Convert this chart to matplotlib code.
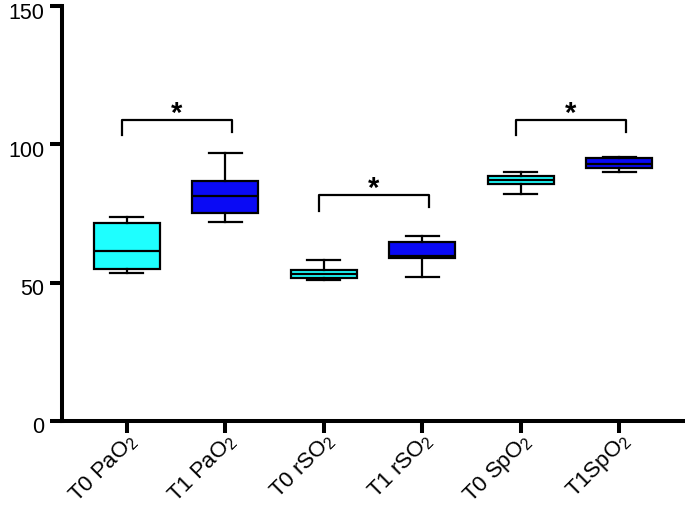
import matplotlib
matplotlib.use("Agg")
import matplotlib.pyplot as plt
import matplotlib.transforms as mtransforms

plt.rcParams['font.family'] = ['Liberation Sans', 'DejaVu Sans']
plt.rcParams['mathtext.fontset'] = 'custom'
plt.rcParams['mathtext.rm'] = 'Liberation Sans'

## Data

labels = ["T0 PaO$\\mathregular{_2}$", "T1 PaO$\\mathregular{_2}$", "T0 rSO$\\mathregular{_2}$",
          "T1 rSO$\\mathregular{_2}$", "T0 SpO$\\mathregular{_2}$", "T1SpO$\\mathregular{_2}$"]
whis_low = [53.5, 71.9, 51.0, 52.1, 82.0, 90.0]
q1 = [55.0, 75.3, 51.6, 59.0, 85.6, 91.6]
median = [61.5, 81.3, 53.1, 59.7, 87.1, 92.9]
q3 = [71.5, 86.9, 54.6, 64.6, 88.6, 95.0]
whis_high = [73.9, 97.0, 58.1, 66.9, 90.0, 95.4]
colors = ["#1EFFFF", "#0A0AF5", "#1EFFFF", "#0A0AF5", "#1EFFFF", "#0A0AF5"]

# significance brackets: first box index, top height, leg ends
pairs = [0, 2, 4]
bracket_top = [108.8, 81.6, 108.8]
leg_left = [103.4, 76.0, 103.4]
leg_right = [104.5, 77.2, 104.5]

# Chart

fig = plt.figure(figsize=(6.85, 5.09), dpi=100)
ax = fig.add_axes([0.090, 0.173, 0.91, 0.815])

stats = []
for i in range(len(labels)):
    stats.append({"whislo": whis_low[i], "q1": q1[i], "med": median[i],
                  "q3": q3[i], "whishi": whis_high[i], "fliers": []})

bp = ax.bxp(stats, positions=range(len(labels)), widths=0.67, patch_artist=True,
            showfliers=False,
            boxprops=dict(linewidth=1.6, edgecolor="black"),
            medianprops=dict(color="black", linewidth=1.6),
            whiskerprops=dict(color="black", linewidth=1.6),
            capprops=dict(color="black", linewidth=1.6))
for patch, c in zip(bp["boxes"], colors):
    patch.set_facecolor(c)

for k, i in enumerate(pairs):
    x0 = i - 0.05
    x1 = i + 1 + 0.07
    ax.plot([x0, x0, x1, x1], [leg_left[k], bracket_top[k], bracket_top[k], leg_right[k]],
            color="black", linewidth=1.6)
    ax.text((x0 + x1) / 2, bracket_top[k] - 2.8, "*", ha="center", va="bottom",
            fontsize=21, fontweight="bold")

ax.set_xlim(-0.66, 5.67)
ax.set_ylim(0, 150)
ax.set_yticks([0, 50, 100, 150])
ax.set_xticks(range(len(labels)))
ax.set_xticklabels(labels, rotation=45, ha="right", rotation_mode="anchor")
ax.tick_params(axis="both", width=2.9, length=8.5)
ax.tick_params(axis="y", labelsize=15.5, pad=4)
ax.tick_params(axis="x", labelsize=16, pad=-2.5)
for s in ["top", "right"]:
    ax.spines[s].set_visible(False)
for s in ["left", "bottom"]:
    ax.spines[s].set_linewidth(2.9)

# y labels sit a little below their ticks in the original
shift = mtransforms.ScaledTranslation(0, -0.045, fig.dpi_scale_trans)
for lab in ax.get_yticklabels():
    lab.set_transform(lab.get_transform() + shift)

plt.savefig("out.png", dpi=100)
